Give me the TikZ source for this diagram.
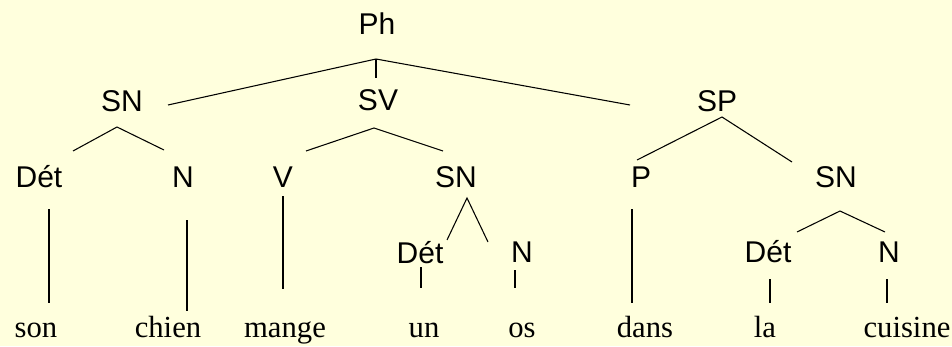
\documentclass[tikz,border=0pt]{standalone}
\usepackage{fontspec}
\setmainfont{Liberation Serif}
\setsansfont{Liberation Sans}
\definecolor{bg}{RGB}{255,255,221}
\begin{document}
\begin{tikzpicture}[x=0.75pt,y=-0.75pt,
  cat/.style={font=\sffamily\fontsize{22.5}{26}\selectfont, inner sep=0pt, anchor=base},
  word/.style={font=\rmfamily\fontsize{23}{27}\selectfont, inner sep=0pt, anchor=base},
  branch/.style={line width=0.8pt, black}]
\fill[bg] (0,0) rectangle (952,346);
\useasboundingbox (0,0) rectangle (952,346);
% categories
\node[cat] (Ph) at (377,35) {Ph};
\node[cat] (SNa) at (122,111) {SN};
\node[cat] (SV) at (378,110) {SV};
\node[cat] (SP) at (717,111) {SP};
\node[cat] (Deta) at (39,187) {Dét};
\node[cat] (Na) at (183,187) {N};
\node[cat] (V) at (283,187) {V};
\node[cat] (SNb) at (456,187) {SN};
\node[cat] (P) at (641,187) {P};
\node[cat] (SNc) at (836,187) {SN};
\node[cat] (Detb) at (420,263) {Dét};
\node[cat] (Nb) at (522,262) {N};
\node[cat] (Detc) at (768,262) {Dét};
\node[cat] (Nc) at (889,262) {N};
% words
\node[word] (son) at (36,337) {son};
\node[word] (chien) at (168,337) {chien};
\node[word] (mange) at (285,337) {mange};
\node[word] (un) at (424,337) {un};
\node[word] (os) at (522,337) {os};
\node[word] (dans) at (645,337) {dans};
\node[word] (la) at (765,337) {la};
\node[word] (cuisine) at (907,337) {cuisine};
% branch points
\coordinate (PhTop) at (376,59);
\coordinate (PhBot) at (376,78);
\coordinate (PhL) at (168,105);
\coordinate (PhR) at (630,105);
\coordinate (SNaTop) at (117,127);
\coordinate (SNaL) at (73,151);
\coordinate (SNaR) at (164,150);
\coordinate (SVTop) at (374,128);
\coordinate (SVL) at (306,151);
\coordinate (SVR) at (443,151);
\coordinate (SPTop) at (722,117);
\coordinate (SPL) at (637,160);
\coordinate (SPR) at (792,162);
\coordinate (SNbTop) at (467,198);
\coordinate (SNbL) at (447,240);
\coordinate (SNbR) at (488,242);
\coordinate (SNcTop) at (840,211);
\coordinate (SNcL) at (797,232);
\coordinate (SNcR) at (885,232);
\coordinate (sonT) at (49,209);   \coordinate (sonB) at (49,303);
\coordinate (chienT) at (187,220); \coordinate (chienB) at (187,311);
\coordinate (mangeT) at (283,196); \coordinate (mangeB) at (283,289);
\coordinate (dansT) at (632,209); \coordinate (dansB) at (632,303);
\coordinate (unT) at (421,267);  \coordinate (unB) at (421,288);
\coordinate (osT) at (515,270);  \coordinate (osB) at (515,288);
\coordinate (laT) at (770,279);  \coordinate (laB) at (770,303);
\coordinate (cuiT) at (887,279); \coordinate (cuiB) at (887,303);
% connectors
\draw[branch] (PhTop) -- (PhBot);
\draw[branch] (PhTop) -- (PhL);
\draw[branch] (PhTop) -- (PhR);
\draw[branch] (SNaL) -- (SNaTop) -- (SNaR);
\draw[branch] (SVL) -- (SVTop) -- (SVR);
\draw[branch] (SPL) -- (SPTop) -- (SPR);
\draw[branch] (SNbL) -- (SNbTop) -- (SNbR);
\draw[branch] (SNcL) -- (SNcTop) -- (SNcR);
\draw[branch] (sonT) -- (sonB);
\draw[branch] (chienT) -- (chienB);
\draw[branch] (mangeT) -- (mangeB);
\draw[branch] (dansT) -- (dansB);
\draw[branch] (unT) -- (unB);
\draw[branch] (osT) -- (osB);
\draw[branch] (laT) -- (laB);
\draw[branch] (cuiT) -- (cuiB);
\end{tikzpicture}
\end{document}
